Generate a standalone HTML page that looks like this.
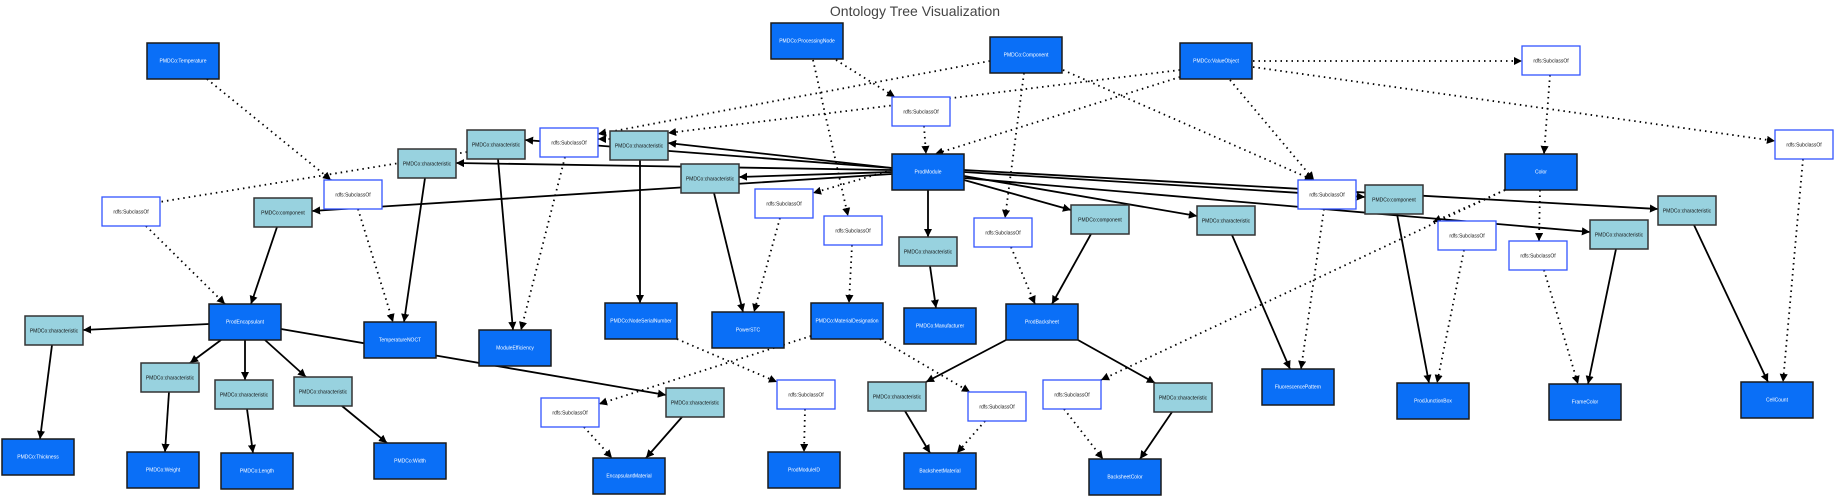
<!DOCTYPE html>
<html><head><meta charset="utf-8"><style>
html,body{margin:0;padding:0;background:#fff;}
svg{display:block;font-family:"Liberation Sans",sans-serif;}
.b rect{fill:#0a6ff7;stroke:#1a1a1a;stroke-width:1.5}
.b text{fill:#fff;font-size:5px;text-anchor:middle;dominant-baseline:middle}
.l rect{fill:#98d2df;stroke:#333;stroke-width:1.5}
.l text{fill:#111;font-size:5px;text-anchor:middle;dominant-baseline:middle}
.r rect{fill:#fff;stroke:#3355ff;stroke-width:1.3}
.r text{fill:#111;font-size:5px;text-anchor:middle;dominant-baseline:middle}
.s line{stroke:#000;stroke-width:1.8;marker-end:url(#a)}
.d line{stroke:#000;stroke-width:1.8;stroke-dasharray:1.5 4;marker-end:url(#a)}
</style></head><body>
<svg width="1838" height="498" viewBox="0 0 1838 498">
<defs><marker id="a" viewBox="0 0 10 10" refX="10" refY="5" markerWidth="4.5" markerHeight="4.5" orient="auto" markerUnits="strokeWidth"><path d="M0,0L10,5L0,10z" fill="#000"/></marker></defs>
<text x="915" y="16" font-size="14" fill="#444" text-anchor="middle" font-family="Liberation Sans,sans-serif">Ontology Tree Visualization</text>
<g class="s">
<line x1="892" y1="168" x2="668" y2="143"/>
<line x1="892" y1="168" x2="525" y2="140"/>
<line x1="892" y1="170" x2="456" y2="163"/>
<line x1="892" y1="174" x2="312" y2="211"/>
<line x1="892" y1="172" x2="739" y2="177"/>
<line x1="928" y1="190" x2="928" y2="237"/>
<line x1="964" y1="180" x2="1071" y2="210"/>
<line x1="964" y1="176" x2="1197" y2="216"/>
<line x1="964" y1="172" x2="1365" y2="197"/>
<line x1="964" y1="170" x2="1658" y2="209"/>
<line x1="964" y1="178" x2="1590" y2="232"/>
<line x1="498" y1="159" x2="513" y2="330"/>
<line x1="425" y1="178" x2="404" y2="322"/>
<line x1="277" y1="227" x2="251" y2="304"/>
<line x1="209" y1="324" x2="83" y2="330"/>
<line x1="221" y1="340" x2="190" y2="363"/>
<line x1="245" y1="340" x2="245" y2="380"/>
<line x1="265" y1="340" x2="306" y2="377"/>
<line x1="281" y1="329" x2="666" y2="395"/>
<line x1="52" y1="345" x2="40" y2="439"/>
<line x1="169" y1="392" x2="165" y2="452"/>
<line x1="247" y1="409" x2="253" y2="453"/>
<line x1="342" y1="406" x2="387" y2="443"/>
<line x1="682" y1="417" x2="646" y2="458"/>
<line x1="640" y1="160" x2="640" y2="303"/>
<line x1="714" y1="193" x2="743" y2="312"/>
<line x1="930" y1="266" x2="936" y2="308"/>
<line x1="1091" y1="234" x2="1052" y2="304"/>
<line x1="1006" y1="340" x2="926" y2="382"/>
<line x1="1078" y1="340" x2="1155" y2="383"/>
<line x1="905" y1="411" x2="930" y2="453"/>
<line x1="1172" y1="412" x2="1140" y2="459"/>
<line x1="1232" y1="235" x2="1290" y2="369"/>
<line x1="1397" y1="214" x2="1429" y2="383"/>
<line x1="1616" y1="249" x2="1588" y2="384"/>
<line x1="1694" y1="225" x2="1768" y2="382"/>
</g>
<g class="d">
<line x1="207" y1="79" x2="331" y2="180"/>
<line x1="467" y1="152" x2="135" y2="206"/>
<line x1="990" y1="61" x2="598" y2="134"/>
<line x1="610" y1="139" x2="598" y2="139"/>
<line x1="1180" y1="70" x2="668" y2="133"/>
<line x1="565" y1="157" x2="521" y2="330"/>
<line x1="358" y1="209" x2="393" y2="322"/>
<line x1="146" y1="226" x2="225" y2="304"/>
<line x1="584" y1="427" x2="612" y2="458"/>
<line x1="811" y1="336" x2="599" y2="404"/>
<line x1="836" y1="60" x2="895" y2="97"/>
<line x1="813" y1="60" x2="848" y2="216"/>
<line x1="924" y1="126" x2="926" y2="154"/>
<line x1="1180" y1="77" x2="935" y2="154"/>
<line x1="892" y1="170" x2="813" y2="193"/>
<line x1="780" y1="218" x2="754" y2="312"/>
<line x1="852" y1="245" x2="849" y2="303"/>
<line x1="1024" y1="73" x2="1005" y2="218"/>
<line x1="1011" y1="247" x2="1035" y2="304"/>
<line x1="1063" y1="70" x2="1313" y2="180"/>
<line x1="1230" y1="80" x2="1314" y2="180"/>
<line x1="1324" y1="209" x2="1301" y2="369"/>
<line x1="677" y1="339" x2="777" y2="382"/>
<line x1="805" y1="409" x2="804" y2="452"/>
<line x1="880" y1="339" x2="970" y2="392"/>
<line x1="985" y1="421" x2="957" y2="453"/>
<line x1="1505" y1="190" x2="1101" y2="380"/>
<line x1="1064" y1="409" x2="1103" y2="459"/>
<line x1="1505" y1="190" x2="1433" y2="222"/>
<line x1="1464" y1="250" x2="1437" y2="383"/>
<line x1="1253" y1="61" x2="1522" y2="61"/>
<line x1="1550" y1="75" x2="1544" y2="154"/>
<line x1="1253" y1="67" x2="1775" y2="141"/>
<line x1="1803" y1="159" x2="1783" y2="382"/>
<line x1="1540" y1="190" x2="1539" y2="241"/>
<line x1="1544" y1="270" x2="1578" y2="384"/>
</g>
<g class="b">
<rect x="147" y="43" width="72" height="36"/><text x="183" y="61">PMDCo:Temperature</text>
<rect x="771" y="23" width="72" height="36"/><text x="807" y="41">PMDCo:ProcessingNode</text>
<rect x="990" y="37" width="72" height="36"/><text x="1026" y="55">PMDCo:Component</text>
<rect x="1180" y="43" width="72" height="36"/><text x="1216" y="61">PMDCo:ValueObject</text>
<rect x="892" y="154" width="72" height="36"/><text x="928" y="172">ProdModule</text>
<rect x="1505" y="154" width="72" height="36"/><text x="1541" y="172">Color</text>
<rect x="209" y="304" width="72" height="36"/><text x="245" y="322">ProdEncapsulant</text>
<rect x="364" y="322" width="72" height="36"/><text x="400" y="340">TemperatureNOCT</text>
<rect x="479" y="330" width="72" height="36"/><text x="515" y="348">ModuleEfficiency</text>
<rect x="605" y="303" width="72" height="36"/><text x="641" y="321">PMDCo:NodeSerialNumber</text>
<rect x="712" y="312" width="72" height="36"/><text x="748" y="330">PowerSTC</text>
<rect x="811" y="303" width="72" height="36"/><text x="847" y="321">PMDCo:MaterialDesignation</text>
<rect x="904" y="308" width="72" height="36"/><text x="940" y="326">PMDCo:Manufacturer</text>
<rect x="1006" y="304" width="72" height="36"/><text x="1042" y="322">ProdBacksheet</text>
<rect x="2" y="439" width="72" height="36"/><text x="38" y="457">PMDCo:Thickness</text>
<rect x="127" y="452" width="72" height="36"/><text x="163" y="470">PMDCo:Weight</text>
<rect x="221" y="453" width="72" height="36"/><text x="257" y="471">PMDCo:Length</text>
<rect x="374" y="443" width="72" height="36"/><text x="410" y="461">PMDCo:Width</text>
<rect x="593" y="458" width="72" height="36"/><text x="629" y="476">EncapsulantMaterial</text>
<rect x="768" y="452" width="72" height="36"/><text x="804" y="470">ProdModuleID</text>
<rect x="904" y="453" width="72" height="36"/><text x="940" y="471">BacksheetMaterial</text>
<rect x="1089" y="459" width="72" height="36"/><text x="1125" y="477">BacksheetColor</text>
<rect x="1262" y="369" width="72" height="36"/><text x="1298" y="387">FluorescencePattern</text>
<rect x="1397" y="383" width="72" height="36"/><text x="1433" y="401">ProdJunctionBox</text>
<rect x="1549" y="384" width="72" height="36"/><text x="1585" y="402">FrameColor</text>
<rect x="1741" y="382" width="72" height="36"/><text x="1777" y="400">CellCount</text>
</g>
<g class="l">
<rect x="467" y="130" width="58" height="29"/><text x="496" y="145">PMDCo:characteristic</text>
<rect x="398" y="149" width="58" height="29"/><text x="427" y="164">PMDCo:characteristic</text>
<rect x="610" y="131" width="58" height="29"/><text x="639" y="146">PMDCo:characteristic</text>
<rect x="681" y="164" width="58" height="29"/><text x="710" y="179">PMDCo:characteristic</text>
<rect x="899" y="237" width="58" height="29"/><text x="928" y="252">PMDCo:characteristic</text>
<rect x="1197" y="206" width="58" height="29"/><text x="1226" y="221">PMDCo:characteristic</text>
<rect x="666" y="388" width="58" height="29"/><text x="695" y="403">PMDCo:characteristic</text>
<rect x="868" y="382" width="58" height="29"/><text x="897" y="397">PMDCo:characteristic</text>
<rect x="1154" y="383" width="58" height="29"/><text x="1183" y="398">PMDCo:characteristic</text>
<rect x="1658" y="196" width="58" height="29"/><text x="1687" y="211">PMDCo:characteristic</text>
<rect x="1590" y="220" width="58" height="29"/><text x="1619" y="235">PMDCo:characteristic</text>
<rect x="25" y="316" width="58" height="29"/><text x="54" y="331">PMDCo:characteristic</text>
<rect x="141" y="363" width="58" height="29"/><text x="170" y="378">PMDCo:characteristic</text>
<rect x="215" y="380" width="58" height="29"/><text x="244" y="395">PMDCo:characteristic</text>
<rect x="294" y="377" width="58" height="29"/><text x="323" y="392">PMDCo:characteristic</text>
<rect x="254" y="198" width="58" height="29"/><text x="283" y="213">PMDCo:component</text>
<rect x="1071" y="205" width="58" height="29"/><text x="1100" y="220">PMDCo:component</text>
<rect x="1365" y="185" width="58" height="29"/><text x="1394" y="200">PMDCo:component</text>
</g>
<g class="r">
<rect x="540" y="128" width="58" height="29"/><text x="569" y="143">rdfs:SubclassOf</text>
<rect x="324" y="180" width="58" height="29"/><text x="353" y="195">rdfs:SubclassOf</text>
<rect x="102" y="197" width="58" height="29"/><text x="131" y="212">rdfs:SubclassOf</text>
<rect x="541" y="398" width="58" height="29"/><text x="570" y="413">rdfs:SubclassOf</text>
<rect x="892" y="97" width="58" height="29"/><text x="921" y="112">rdfs:SubclassOf</text>
<rect x="755" y="189" width="58" height="29"/><text x="784" y="204">rdfs:SubclassOf</text>
<rect x="824" y="216" width="58" height="29"/><text x="853" y="231">rdfs:SubclassOf</text>
<rect x="974" y="218" width="58" height="29"/><text x="1003" y="233">rdfs:SubclassOf</text>
<rect x="777" y="380" width="58" height="29"/><text x="806" y="395">rdfs:SubclassOf</text>
<rect x="968" y="392" width="58" height="29"/><text x="997" y="407">rdfs:SubclassOf</text>
<rect x="1043" y="380" width="58" height="29"/><text x="1072" y="395">rdfs:SubclassOf</text>
<rect x="1522" y="46" width="58" height="29"/><text x="1551" y="61">rdfs:SubclassOf</text>
<rect x="1775" y="130" width="58" height="29"/><text x="1804" y="145">rdfs:SubclassOf</text>
<rect x="1298" y="180" width="58" height="29"/><text x="1327" y="195">rdfs:SubclassOf</text>
<rect x="1438" y="221" width="58" height="29"/><text x="1467" y="236">rdfs:SubclassOf</text>
<rect x="1509" y="241" width="58" height="29"/><text x="1538" y="256">rdfs:SubclassOf</text>
</g>
</svg>
</body></html>
